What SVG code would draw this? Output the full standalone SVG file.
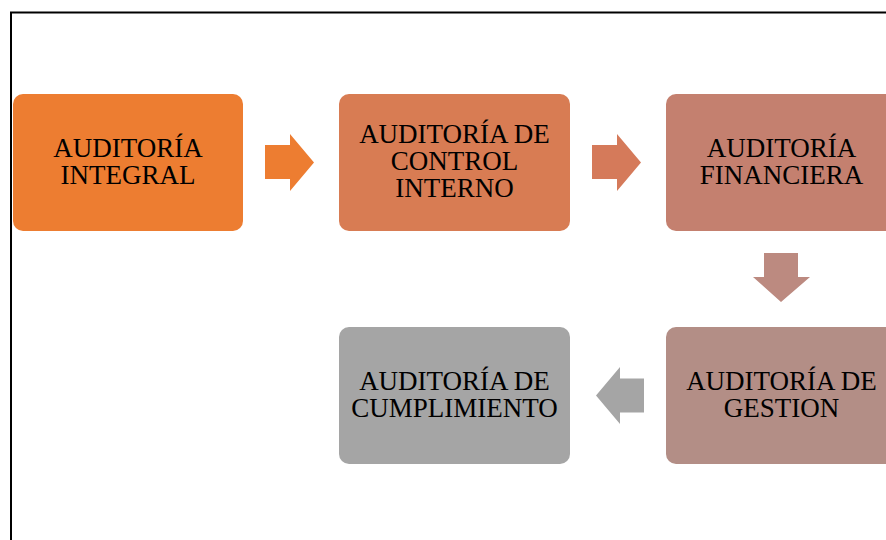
<svg xmlns="http://www.w3.org/2000/svg" width="886" height="540" viewBox="0 0 886 540">
<style>
.box{stroke:none}
.lbl{font-family:"Liberation Serif","Times New Roman",serif;font-size:27px;fill:#000;text-anchor:middle}
</style>
<rect x="0" y="0" width="886" height="540" fill="#ffffff"/>
<rect x="11" y="12.5" width="900" height="600" fill="none" stroke="#000" stroke-width="2"/>
<g id="connectors">
<polygon points="265,145 290,145 290,134 314,162.5 290,191 290,179 265,179" fill="#ED7D31"/>
<polygon points="592,145 617,145 617,134 641,162.5 617,191 617,179 592,179" fill="#D57A5A"/>
<polygon points="764,253 798,253 798,277 810,277 781,302 753,277 764,277" fill="#BC8A80"/>
<polygon points="644,378.5 620,378.5 620,367 596,395.5 620,424 620,412.5 644,412.5" fill="#A5A5A5"/>
</g>
<g id="n1">
<rect class="box" x="13" y="94" width="230" height="137" rx="10" fill="#ED7D31"/>
<text class="lbl" x="128" y="157">AUDITORÍA</text>
<text class="lbl" x="128" y="184">INTEGRAL</text>
</g>
<g id="n2">
<rect class="box" x="339" y="94" width="231" height="137" rx="10" fill="#D87C53"/>
<text class="lbl" x="454.5" y="143">AUDITORÍA DE</text>
<text class="lbl" x="454.5" y="170">CONTROL</text>
<text class="lbl" x="454.5" y="197">INTERNO</text>
</g>
<g id="n3">
<rect class="box" x="666" y="94" width="231" height="137" rx="10" fill="#C4806F"/>
<text class="lbl" x="781.5" y="157">AUDITORÍA</text>
<text class="lbl" x="781.5" y="184">FINANCIERA</text>
</g>
<g id="n4">
<rect class="box" x="666" y="327" width="231" height="137" rx="10" fill="#B38E86"/>
<text class="lbl" x="781.5" y="390">AUDITORÍA DE</text>
<text class="lbl" x="781.5" y="417">GESTION</text>
</g>
<g id="n5">
<rect class="box" x="339" y="327" width="231" height="137" rx="10" fill="#A5A5A5"/>
<text class="lbl" x="454.5" y="390">AUDITORÍA DE</text>
<text class="lbl" x="454.5" y="417">CUMPLIMIENTO</text>
</g>
</svg>
